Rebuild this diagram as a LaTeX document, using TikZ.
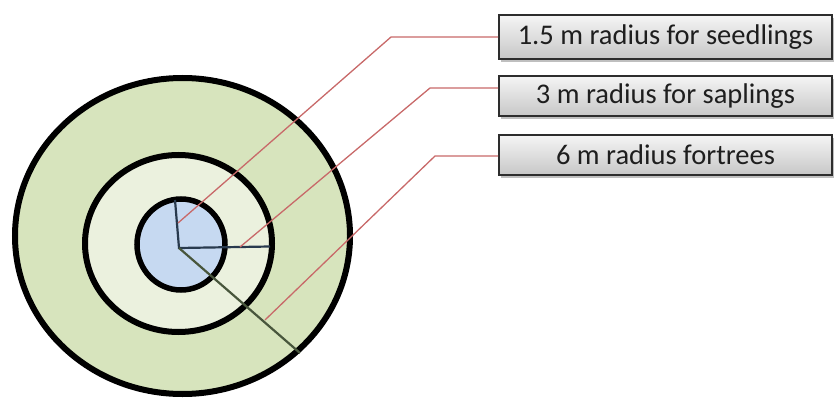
\documentclass[tikz,border=0pt]{standalone}
\usepackage{fontspec}
\setmainfont{Carlito}
\usetikzlibrary{shapes.geometric,shadows}

\definecolor{outerfill}{RGB}{215,228,189}
\definecolor{midfill}{RGB}{235,241,222}
\definecolor{innerfill}{RGB}{198,217,241}
\definecolor{leadred}{RGB}{200,105,105}
\definecolor{radslate}{RGB}{40,58,78}
\definecolor{radolive}{RGB}{72,86,60}
\definecolor{boxtext}{RGB}{30,30,30}

\tikzset{
  zone/.style={ellipse, draw=black, inner sep=0pt},
  radius line/.style={line width=2.2pt},
  leader/.style={draw=leadred, line width=1.3pt, line join=round},
  labelbox/.style={draw={rgb,255:red,45;green,45;blue,45}, line width=1.8pt,
    top color=white!96!black, bottom color=black!22,
    minimum width=333pt, inner sep=0pt,
    font=\fontsize{28.5pt}{31pt}\selectfont, text=boxtext,
    drop shadow={shadow xshift=2pt, shadow yshift=-3pt, fill=black, opacity=.25}}
}

\begin{document}
\begin{tikzpicture}[x=1pt,y=-1pt]
  \useasboundingbox (0,0) rectangle (834,403);

  % concentric sampling zones
  \node[zone, fill=outerfill, line width=6pt, minimum width=335pt, minimum height=316pt] (outer) at (182.5,236) {};
  \node[zone, fill=midfill, line width=6pt, minimum width=187pt, minimum height=177pt] (mid) at (178.5,243.5) {};
  \node[zone, fill=innerfill, line width=5.5pt, minimum width=88pt, minimum height=91pt] (inner) at (181,244.5) {};

  % radii from the plot centre
  \coordinate (ctr) at (179,248);
  \coordinate (r1) at (175,200);
  \coordinate (r2) at (270,246.5);
  \coordinate (r3) at (300,353);
  \draw[radius line, draw=radslate] (r1) -- (ctr) -- (r2);
  \draw[radius line, draw=radolive] (ctr) -- (r3);

  % label boxes
  \node[labelbox, minimum height=44pt] (b1) at (665.5,37) {1.5 m radius for seedlings};
  \node[labelbox, minimum height=40.5pt] (b2) at (665.5,96) {3 m radius for saplings};
  \node[labelbox, minimum height=40pt] (b3) at (665.5,155) {6 m radius fortrees};

  % leader lines from each radius to its label
  \coordinate (s1) at (178,223);
  \coordinate (k1) at (391,37);
  \coordinate (s2) at (240,247);
  \coordinate (k2) at (430,88);
  \coordinate (s3) at (265,320);
  \coordinate (k3) at (435,156);
  \draw[leader] (s1) -- (k1) -- (k1 -| b1.west);
  \draw[leader] (s2) -- (k2) -- (k2 -| b2.west);
  \draw[leader] (s3) -- (k3) -- (k3 -| b3.west);
\end{tikzpicture}
\end{document}
